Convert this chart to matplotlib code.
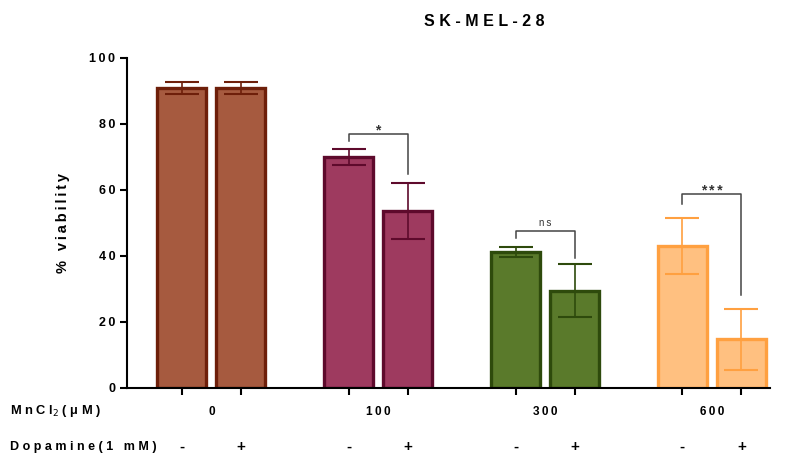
import numpy as np
import matplotlib.pyplot as plt

plt.rcParams['font.family'] = ['Liberation Sans', 'DejaVu Sans']

# data
doses = ['0', '100', '300', '600']
dopamine = ['-', '+', '-', '+', '-', '+', '-', '+']
means = [91.0, 91.0, 70.0, 53.6, 41.2, 29.5, 43.0, 14.7]
errs = [1.8, 1.8, 2.5, 8.4, 1.6, 8.0, 8.4, 9.3]
fills = ['#A65A3F', '#A65A3F', '#9E3A5F', '#9E3A5F', '#5A7A2B', '#5A7A2B', '#FFC080', '#FFC080']
edges = ['#6E1F0A', '#6E1F0A', '#5E0A2C', '#5E0A2C', '#2E4A0C', '#2E4A0C', '#FFA040', '#FFA040']
# significance: (group, label, bracket y, left end, right end)
sig = [(1, '*', 77.0, 74.8, 64.8), (2, 'ns', 47.6, 45.5, 39.4), (3, '***', 58.8, 55.8, 28.2)]

def sp(s, gap='\u2009'):
    return gap.join(s)

step = 2.83
pos = np.array([g * step + k for g in range(4) for k in range(2)])

fig = plt.figure(figsize=(7.87, 4.53), dpi=100)
ax = fig.add_axes([0.1614, 0.1435, 0.8166, 0.7285])

for i in range(8):
    ax.bar(pos[i], means[i], width=0.83, color=fills[i], edgecolor=edges[i], linewidth=2.4, zorder=2)
    ax.errorbar(pos[i], means[i], yerr=errs[i], color=edges[i], capsize=12, elinewidth=1.2,
                capthick=1.5, fmt='none', zorder=3)

for g, lab, yl, y1, y2 in sig:
    x1, x2 = pos[2 * g], pos[2 * g + 1]
    ax.plot([x1, x1, x2, x2], [y1, yl, yl, y2], color='#444444', lw=1.1, zorder=4, clip_on=False)
    if lab == 'ns':
        ax.text((x1 + x2) / 2, yl + 0.8, sp(lab), ha='center', va='bottom', fontsize=7, color='#333333')
    else:
        ax.text((x1 + x2) / 2, yl - 1.2, sp(lab), ha='center', va='bottom', fontsize=10,
                fontweight='bold', color='#333333')

ax.set_xlim(-0.93, 9.97)
ax.set_ylim(0, 100)
ax.set_yticks([0, 20, 40, 60, 80, 100])
ax.set_yticklabels([sp(str(v)) for v in [0, 20, 40, 60, 80, 100]], fontsize=9, fontweight='bold')
ax.set_xticks(pos)
ax.set_xticklabels([])
ax.tick_params(axis='both', width=1.5, length=5, direction='out')
for s in ['top', 'right']:
    ax.spines[s].set_visible(False)
for s in ['left', 'bottom']:
    ax.spines[s].set_linewidth(1.5)

ax.set_ylabel(sp('% viability'), fontsize=10.5, fontweight='bold', labelpad=14)

trans = ax.get_xaxis_transform()
for g in range(4):
    ax.text((pos[2 * g] + pos[2 * g + 1]) / 2, -0.072, sp(doses[g]), transform=trans,
            ha='center', va='center', fontsize=8.5, fontweight='bold')
for i in range(8):
    ax.text(pos[i], -0.178, dopamine[i], transform=trans, ha='center', va='center',
            fontsize=11, fontweight='bold')

fig.text(0.013, 0.092, sp('MnCl', ' ') + '$_2$' + ' ' + sp('(μM)', ' '), ha='left', va='center',
         fontsize=9.3, fontweight='bold')
fig.text(0.013, 0.013, sp('Dopamine(1 mM)', ' '), ha='left', va='center', fontsize=9,
         fontweight='bold')

fig.text(0.615, 0.952, sp('SK-MEL-28', ' '), ha='center', va='center', fontsize=11.5, fontweight='bold')

fig.savefig('out.png', dpi=100)
